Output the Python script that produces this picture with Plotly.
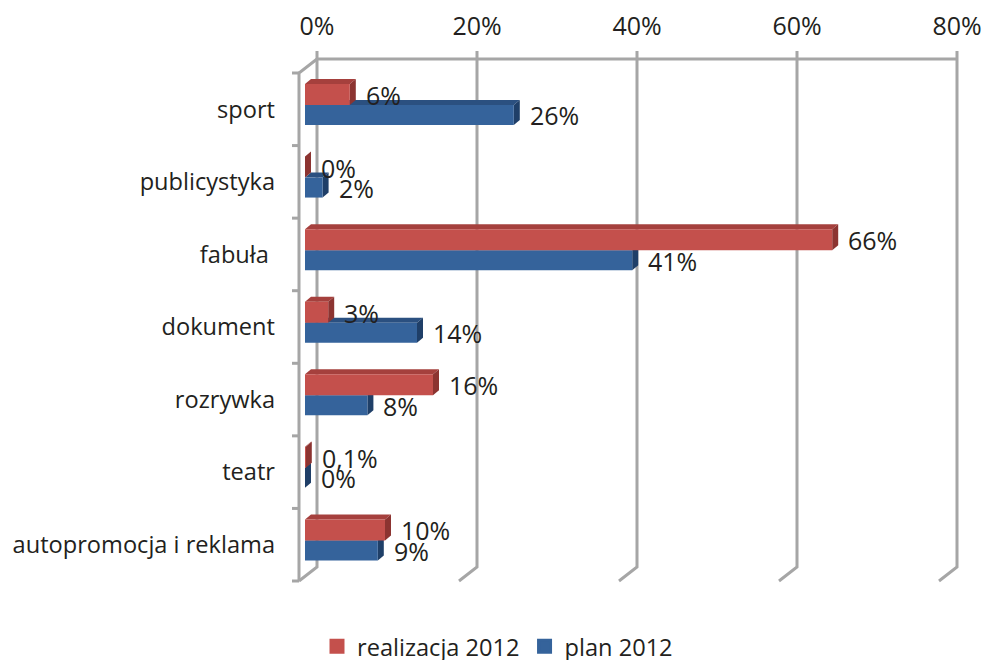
import plotly.graph_objects as go

categories = ["sport", "publicystyka", "fabuła ", "dokument", "rozrywka", "teatr", "autopromocja i reklama"]
realizacja = [5.6, 0, 65.9, 2.9, 16.0, 0.1, 10.0]
plan = [26.1, 2.2, 40.9, 14.0, 7.8, 0, 9.1]
realizacja_labels = ["6%", "0%", "66%", "3%", "16%", "0,1%", "10%"]
plan_labels = ["26%", "2%", "41%", "14%", "8%", "0%", "9%"]
x_ticks = [0, 20, 40, 60, 80]
x_tick_labels = ["0%", "20%", "40%", "60%", "80%"]

FONT = "Open Sans"
FS = 23.6
FS_NUM = 25
TXT = "#231f20"
GRID = "#a6a6a6"
RED, RED_TOP, RED_SIDE = "#c4504c", "#a5403d", "#8c3431"
BLUE, BLUE_TOP, BLUE_SIDE = "#35639b", "#2b5080", "#1f3f68"

W, H = 983, 660
L, R, T, B = 292, 965, 45, 590
PX_PER_PCT = 8.0
CAT_PX = 508 / 7
BACK_X0, BACK_Y0 = 317, 567     # back wall origin (px)
FRONT_X0, FRONT_Y0 = 299, 581   # front plane of the axis (px)
BAR_X0 = 305                    # where bars start (px)
DX, DY = 6 / PX_PER_PCT, 5 / CAT_PX  # depth of a bar, in data units
WALL_DX, WALL_DY = (BACK_X0 - FRONT_X0) / PX_PER_PCT, (FRONT_Y0 - BACK_Y0) / CAT_PX

xr_wall = [(L - BACK_X0) / PX_PER_PCT, (R - BACK_X0) / PX_PER_PCT]
xr_bars = [(L - BAR_X0) / PX_PER_PCT, (R - BAR_X0) / PX_PER_PCT]
yr_wall = [(BACK_Y0 - B) / CAT_PX, (BACK_Y0 - T) / CAT_PX]

y2_top, y2_bot = 73, 581
dom2 = [(B - y2_bot) / (B - T), (B - y2_top) / (B - T)]
n = len(categories)
rows = list(range(n))

# bar placement inside a category row, in row units
RED_OFF, RED_W = (84 - 109.3) / CAT_PX, 21 / CAT_PX
BLUE_OFF, BLUE_W = (105 - 109.3) / CAT_PX, 20 / CAT_PX

# wall lines from the axis ticks
stub = 8 / CAT_PX
wx, wy = [], []
for t in x_ticks:
    wx += [t, t, t - WALL_DX, None]
    wy += [n + stub, 0, -WALL_DY, None]
wx += [x_ticks[0], x_ticks[-1], None]
wy += [n, n, None]
# left front edge, top slant and the row ticks
wx += [-WALL_DX, -WALL_DX, 0, None]
wy += [-WALL_DY, n - WALL_DY, n, None]
tick_len = 7 / PX_PER_PCT
for i in range(n + 1):
    wx += [-WALL_DX - tick_len, -WALL_DX, None]
    wy += [i - WALL_DY, i - WALL_DY, None]

fig = go.Figure()
fig.add_trace(go.Scatter(x=wx, y=wy, mode="lines", line=dict(color=GRID, width=3),
                         xaxis="x", yaxis="y", showlegend=False, hoverinfo="skip"))


def depth_shapes(values, off, width, top_col, side_col):
    out = []
    for i, v in enumerate(values):
        y_t, y_b = i + off, i + off + width
        out.append(dict(type="path", xref="x2", yref="y2", layer="below", line_width=0, fillcolor=top_col,
                        path=f"M 0 {y_t} L {DX} {y_t - DY} L {v + DX} {y_t - DY} L {v} {y_t} Z"))
        out.append(dict(type="path", xref="x2", yref="y2", layer="below", line_width=0, fillcolor=side_col,
                        path=f"M {v} {y_t} L {v + DX} {y_t - DY} L {v + DX} {y_b - DY} L {v} {y_b} Z"))
    return out


shapes = depth_shapes(plan, BLUE_OFF, BLUE_W, BLUE_TOP, BLUE_SIDE) + \
    depth_shapes(realizacja, RED_OFF, RED_W, RED_TOP, RED_SIDE)

fig.add_trace(go.Bar(y=rows, x=plan, orientation="h", offset=BLUE_OFF, width=BLUE_W,
                     marker=dict(color=BLUE, line_width=0), xaxis="x2", yaxis="y2", showlegend=False))
fig.add_trace(go.Bar(y=rows, x=realizacja, orientation="h", offset=RED_OFF, width=RED_W,
                     marker=dict(color=RED, line_width=0), xaxis="x2", yaxis="y2", showlegend=False))
# legend entries, with a slightly larger swatch
fig.add_trace(go.Bar(y=[None], x=[None], orientation="h", name="realizacja 2012",
                     marker=dict(color=RED, line=dict(color=RED, width=3)), xaxis="x2", yaxis="y2"))
fig.add_trace(go.Bar(y=[None], x=[None], orientation="h", name="plan 2012",
                     marker=dict(color=BLUE, line=dict(color=BLUE, width=3)), xaxis="x2", yaxis="y2"))

annotations = []
for vals, labs, off, w in ((realizacja, realizacja_labels, RED_OFF, RED_W), (plan, plan_labels, BLUE_OFF, BLUE_W)):
    for i, (v, lab) in enumerate(zip(vals, labs)):
        annotations.append(dict(x=v, y=i + off + w / 2, xref="x2", yref="y2", text=lab, showarrow=False,
                                xanchor="left", yanchor="middle", xshift=14, yshift=-0.5,
                                font=dict(family=FONT, size=FS_NUM, color=TXT)))

fig.update_layout(
    width=W, height=H, margin=dict(l=L, r=W - R, t=T, b=H - B, autoexpand=False),
    paper_bgcolor="white", plot_bgcolor="rgba(0,0,0,0)",
    barmode="overlay", shapes=shapes, annotations=annotations,
    font=dict(family=FONT, size=FS, color=TXT),
    xaxis=dict(range=xr_wall, domain=[0, 1], side="top", anchor="y", tickvals=x_ticks, ticktext=x_tick_labels,
               showgrid=False, zeroline=False, showline=False, ticks="", ticklabelstandoff=4,
               tickfont=dict(family=FONT, size=FS_NUM, color=TXT)),
    yaxis=dict(range=yr_wall, domain=[0, 1], anchor="x", visible=False),
    xaxis2=dict(range=xr_bars, domain=[0, 1], anchor="y2", visible=False),
    yaxis2=dict(range=[n - 0.5, -0.5], domain=dom2, anchor="x2", tickvals=rows, ticktext=categories,
                showgrid=False, zeroline=False, showline=False, ticks="", ticklabelstandoff=16,
                tickfont=dict(family=FONT, size=FS, color=TXT)),
    legend=dict(orientation="h", x=(317 - L) / (R - L), y=(B - 624.5) / (B - T), xanchor="left", yanchor="top",
                font=dict(family=FONT, size=FS, color=TXT), bgcolor="rgba(0,0,0,0)", traceorder="normal"),
)

fig.write_html("out.html", config=dict(displayModeBar=False),
               post_script="document.body.style.margin='0';document.documentElement.style.overflow='hidden';")
